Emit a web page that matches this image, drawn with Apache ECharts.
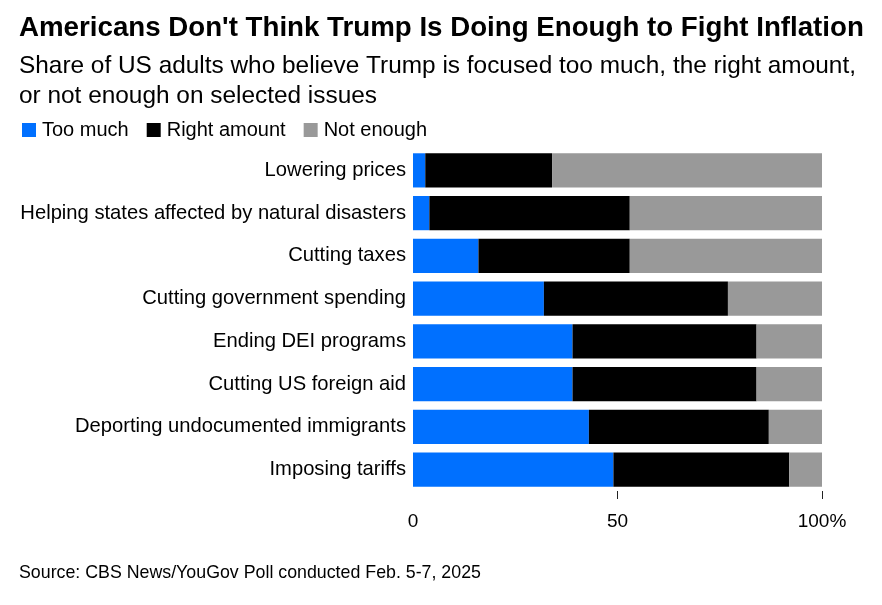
<!DOCTYPE html>
<html>
<head>
<meta charset="utf-8">
<script src="https://cdn.jsdelivr.net/npm/echarts@6/dist/echarts.min.js"></script>
<style>
    html, body { margin: 0; padding: 0; background: #fff; }
    #chart { width: 882px; height: 605px; }
</style>
</head>
<body>
<div id="chart"></div>
<script>
    // Issues, top to bottom
    var issues = [
        "Lowering prices",
        "Helping states affected by natural disasters",
        "Cutting taxes",
        "Cutting government spending",
        "Ending DEI programs",
        "Cutting US foreign aid",
        "Deporting undocumented immigrants",
        "Imposing tariffs"
    ];
    var tooMuch = [3, 4, 16, 32, 39, 39, 43, 49];
    var rightAmount = [31, 49, 37, 45, 45, 45, 44, 43];
    var notEnough = [66, 47, 47, 23, 16, 16, 13, 8];
    var xTicks = [0, 50, 100];

    var font = "Liberation Sans, Arial, sans-serif";

    var myChart = echarts.init(document.getElementById("chart"));

    function barSeries(name, data, color) {
        return {
            name: name,
            type: "bar",
            stack: "total",
            data: data,
            barCategoryGap: "20%",
            itemStyle: { color: color },
            emphasis: { disabled: true }
        };
    }

    var option = {
        animation: false,
        textStyle: { fontFamily: font },
        title: [
            {
                text: "Americans Don't Think Trump Is Doing Enough to Fight Inflation",
                left: 19,
                top: 14,
                padding: 0,
                textStyle: { fontSize: 27.7, fontWeight: "bold", color: "#000", fontFamily: font }
            },
            {
                text: "Share of US adults who believe Trump is focused too much, the right amount,\nor not enough on selected issues",
                left: 19,
                top: 51,
                padding: 0,
                textStyle: { fontSize: 24.4, fontWeight: "normal", color: "#000", lineHeight: 30, fontFamily: font }
            },
            {
                text: "Source: CBS News/YouGov Poll conducted Feb. 5-7, 2025",
                left: 19,
                top: 564,
                padding: 0,
                textStyle: { fontSize: 17.8, fontWeight: "normal", color: "#000", fontFamily: font }
            }
        ],
        legend: {
            left: 22,
            top: 120,
            padding: 0,
            icon: "rect",
            itemWidth: 14,
            itemHeight: 14,
            itemGap: 18,
            selectedMode: false,
            textStyle: { fontSize: 20, color: "#000", padding: [0, 0, 0, 1] },
            data: ["Too much", "Right amount", "Not enough"]
        },
        grid: {
            left: 413,
            right: 60,
            top: 149,
            bottom: 114
        },
        xAxis: {
            type: "value",
            min: 0,
            max: 100,
            interval: 50,
            splitLine: { show: false },
            axisLine: { show: false },
            axisTick: {
                show: true,
                length: 8,
                customValues: [50, 100],
                lineStyle: { color: "#222", width: 1 }
            },
            axisLabel: {
                margin: 21,
                fontSize: 19,
                color: "#000",
                customValues: xTicks,
                formatter: function (v) {
                    return v === 100 ? "100%" : String(v);
                }
            }
        },
        yAxis: {
            type: "category",
            inverse: true,
            data: issues,
            axisLine: { show: false },
            axisTick: { show: false },
            axisLabel: { margin: 7, fontSize: 20.2, color: "#000" }
        },
        series: [
            barSeries("Too much", tooMuch, "#0070ff"),
            barSeries("Right amount", rightAmount, "#000000"),
            barSeries("Not enough", notEnough, "#999999")
        ]
    };

    myChart.setOption(option);
</script>
</body>
</html>
